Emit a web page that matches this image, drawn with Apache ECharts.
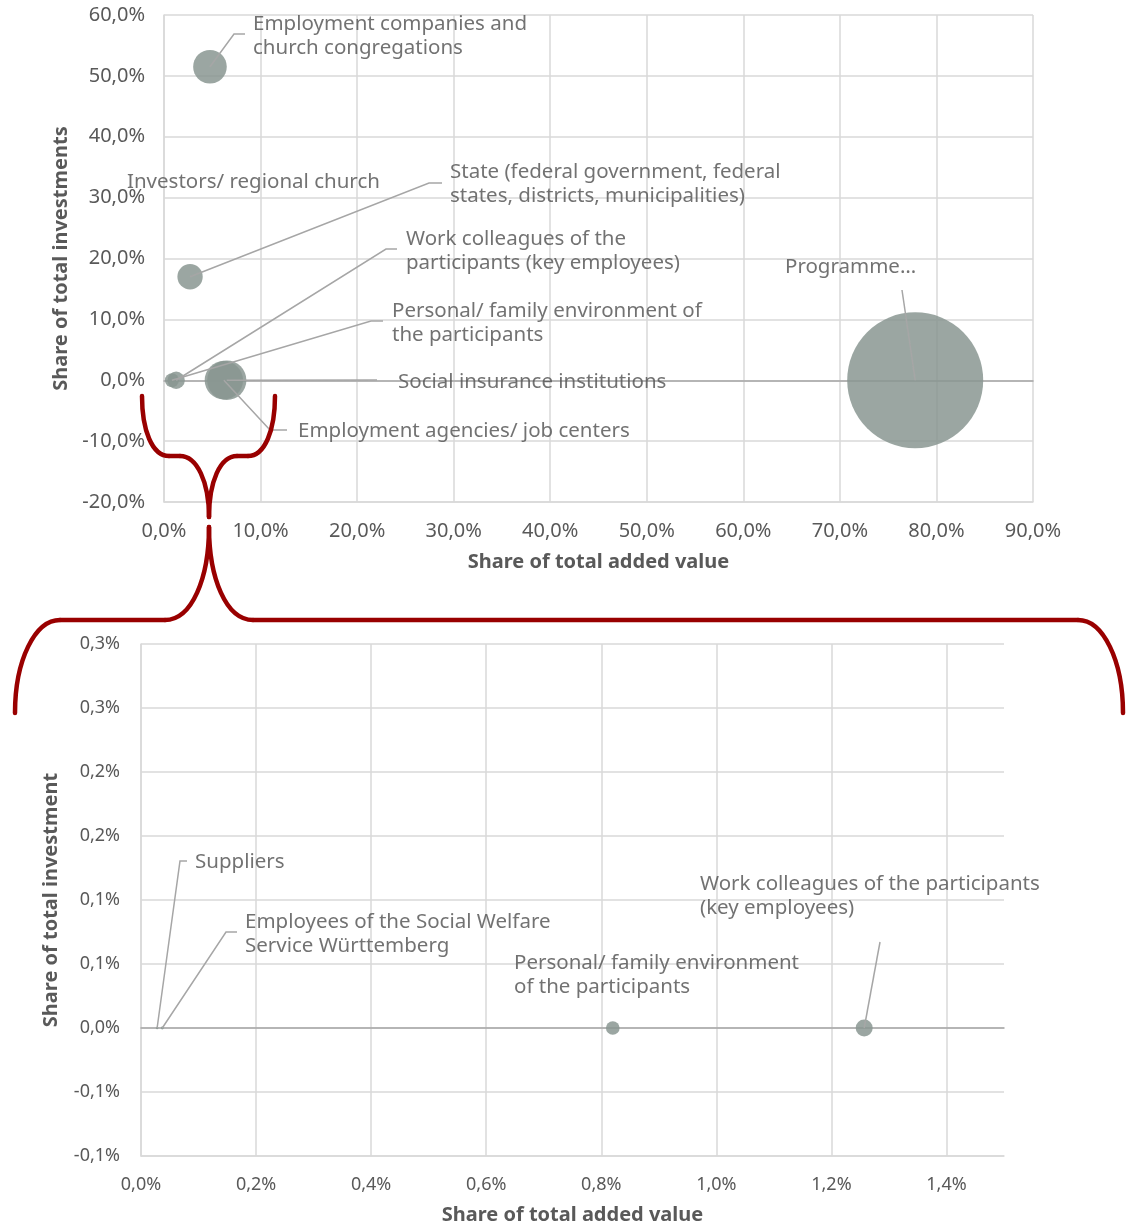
<!DOCTYPE html>
<html>
<head>
<meta charset="utf-8">
<script src="https://cdn.jsdelivr.net/npm/echarts@6/dist/echarts.min.js"></script>
<style>html,body{margin:0;padding:0;background:#fff}#c{width:1132px;height:1227px}</style>
</head>
<body>
<div id="c"></div>
<script>
// ---------- data ----------
const topNames = [
  'Employment companies and\nchurch congregations',
  'State (federal government, federal\nstates, districts, municipalities)',
  'Investors/ regional church',
  'Work colleagues of the\nparticipants (key employees)',
  'Personal/ family environment of\nthe participants',
  'Social insurance institutions',
  'Employment agencies/ job centers',
  'Programme…'
];
const topAddedValue = [4.76, 2.7, 0.0, 1.26, 0.82, 6.5, 6.2, 77.8];   // % of total added value
const topInvestment = [51.5, 17.0, 32.6, 0, 0, 0, 0, 0];             // % of total investments

const bottomNames = [
  'Suppliers',
  'Employees of the Social Welfare\nService Württemberg',
  'Personal/ family environment\nof the participants',
  'Work colleagues of the participants\n(key employees)'
];
const bottomAddedValue = [0.028, 0.037, 0.82, 1.257];
const bottomInvestment = [0, 0, 0, 0];

const topXTicks = { min: 0, max: 90, interval: 10 };
const topYTicks = { min: -20, max: 60, interval: 10 };
const bottomXTicks = { min: 0, max: 1.5, interval: 0.2 };
const bottomYTicks = { min: -0.1, max: 0.3, interval: 0.05 };

// ---------- styles ----------
const FONT = 'Noto Sans';
const TEXT = '#595959';
const GRID = '#d9d9d9';
const ZERO = '#a6a6a6';
const LEADER = '#a6a6a6';
const BUBBLE = '#8a9692';
const BRACE = '#990000';

// label anchor (left, vertical middle) in px, and leader elbows in px
const topLabelPos = [[253,36],[450,184],[127,182],[406,251],[392,323],[398,382],[298,431],[785,267]];
const topLeader = [[[245,34],[234,34]], [[442,183],[429,183]], null, [[397,249],[386,249]], [[383,321],[371,321]], [[377,380]], [[287,430],[270,430]], [[902,290]]];
const bottomLabelPos = [[195,862],[245,934],[514,975],[700,896]];
const bottomLeader = [[[187,861],[180,861]], [[237,932],[226,932]], null, [[880,942]]];

function fmt1(v) {
  const s = v < 0 ? -1 : 1;
  const r = Math.round(Math.abs(v) * 10 + 1e-9) / 10;
  const n = s * r;
  return (n === 0 ? 0 : n).toFixed(1).replace('.', ',') + '%';
}

const chart = echarts.init(document.getElementById('c'), null, { renderer: 'canvas' });

function xMain(grid, t, nameGap, fs, margin) {
  return {
    gridIndex: grid, type: 'value', min: t.min, max: t.max, interval: t.interval,
    axisLine: { show: true, onZero: false, lineStyle: { color: GRID, width: 1.5 } },
    axisTick: { show: false },
    splitLine: { show: true, showMaxLine: grid === 0, lineStyle: { color: GRID, width: 1.5 } },
    axisLabel: { color: TEXT, fontSize: fs, fontFamily: FONT, margin: margin, showMaxLabel: grid === 0,
      formatter: v => fmt1(v) },
    name: 'Share of total added value', nameLocation: 'middle', nameGap: nameGap,
    nameTextStyle: { color: TEXT, fontSize: 20, fontWeight: 'bold', fontFamily: FONT }
  };
}
function xZero(grid, t) {
  return {
    gridIndex: grid, type: 'value', min: t.min, max: t.max, position: 'bottom',
    axisLine: { show: true, onZero: true, lineStyle: { color: ZERO, width: 1.5 } },
    axisTick: { show: false }, axisLabel: { show: false }, splitLine: { show: false }
  };
}
function yMain(grid, t, name, nameGap, margin, fs) {
  return {
    gridIndex: grid, type: 'value', min: t.min, max: t.max, interval: t.interval,
    axisLine: { show: true, onZero: false, lineStyle: { color: GRID, width: 1.5 } },
    axisTick: { show: false },
    splitLine: { show: true, lineStyle: { color: GRID, width: 1.5 } },
    axisLabel: { color: TEXT, fontSize: fs, fontFamily: FONT, margin: margin, formatter: v => fmt1(v) },
    name: name, nameLocation: 'middle', nameGap: nameGap,
    nameTextStyle: { color: TEXT, fontSize: 20, fontWeight: 'bold', fontFamily: FONT }
  };
}

function series(xIdx, yIdx, names, xs, ys, maxR, labelPos) {
  const maxV = Math.max.apply(null, xs);
  return {
    type: 'scatter', xAxisIndex: xIdx, yAxisIndex: yIdx, z: 3,
    data: names.map((n, i) => ({ name: n, value: [xs[i], ys[i]] })),
    symbolSize: v => 2 * maxR * Math.sqrt(Math.max(v[0], 0) / maxV),
    itemStyle: { color: BUBBLE, opacity: 0.85 },
    label: { show: true, formatter: p => p.name, color: TEXT, fontSize: 20.5, lineHeight: 24.5, fontFamily: FONT },
    labelLayout: p => ({ x: labelPos[p.dataIndex][0], y: labelPos[p.dataIndex][1], align: 'left', verticalAlign: 'middle' }),
    emphasis: { disabled: true }
  };
}

chart.setOption({
  animation: false,
  textStyle: { fontFamily: FONT },
  grid: [
    { left: 164, top: 15, width: 869, height: 487 },
    { left: 141, top: 644, width: 863, height: 512 }
  ],
  xAxis: [xMain(0, topXTicks, 50, 20, 19), xZero(0, topXTicks), xMain(1, bottomXTicks, 49, 18, 20), xZero(1, bottomXTicks)],
  yAxis: [
    yMain(0, topYTicks, 'Share of total investments', 89, 19, 20),
    yMain(1, bottomYTicks, 'Share of total investment', 80, 21, 18)
  ],
  series: [
    series(0, 0, topNames, topAddedValue, topInvestment, 68, topLabelPos),
    series(2, 1, bottomNames, bottomAddedValue, bottomInvestment, 8.5, bottomLabelPos)
  ]
});

// ---------- leader lines ----------
const graphics = [];
function addLeaders(seriesIndex, xs, ys, leaders) {
  leaders.forEach((pts, i) => {
    if (!pts) return;
    const p = chart.convertToPixel({ seriesIndex: seriesIndex }, [xs[i], ys[i]]);
    graphics.push({
      type: 'polyline', z: 10, silent: true,
      shape: { points: pts.concat([p]) },
      style: { stroke: LEADER, lineWidth: 1.5, fill: null }
    });
  });
}
addLeaders(0, topAddedValue, topInvestment, topLeader);
addLeaders(1, bottomAddedValue, bottomInvestment, bottomLeader);

// ---------- brace decoration ----------
const braceStyle = { stroke: BRACE, lineWidth: 4.5, lineCap: 'round', fill: null };
function bz(x1, y1, c1x, c1y, c2x, c2y, x2, y2) {
  return { type: 'bezierCurve', z: 20, silent: true,
    shape: { x1, y1, cpx1: c1x, cpy1: c1y, cpx2: c2x, cpy2: c2y, x2, y2 }, style: braceStyle };
}
function ln(x1, y1, x2, y2) {
  return { type: 'line', z: 20, silent: true, shape: { x1, y1, x2, y2 }, style: braceStyle };
}
// upper (small) brace
graphics.push(bz(142, 396, 142, 430, 152, 456, 169, 456));
graphics.push(ln(169, 456, 180, 456));
graphics.push(bz(180, 456, 197, 456, 209, 482, 209, 517));
graphics.push(bz(275, 396, 275, 430, 265, 456, 248, 456));
graphics.push(ln(248, 456, 237, 456));
graphics.push(bz(237, 456, 220, 456, 209, 482, 209, 517));
// lower (wide) brace
graphics.push(bz(209, 527, 209, 578, 192, 620, 165, 620));
graphics.push(ln(165, 620, 60, 620));
graphics.push(bz(60, 620, 35, 620, 15, 660, 15, 713));
graphics.push(bz(209, 527, 209, 578, 226, 620, 253, 620));
graphics.push(ln(253, 620, 1078, 620));
graphics.push(bz(1078, 620, 1103, 620, 1123, 660, 1123, 713));

chart.setOption({ graphic: graphics });
</script>
</body>
</html>
